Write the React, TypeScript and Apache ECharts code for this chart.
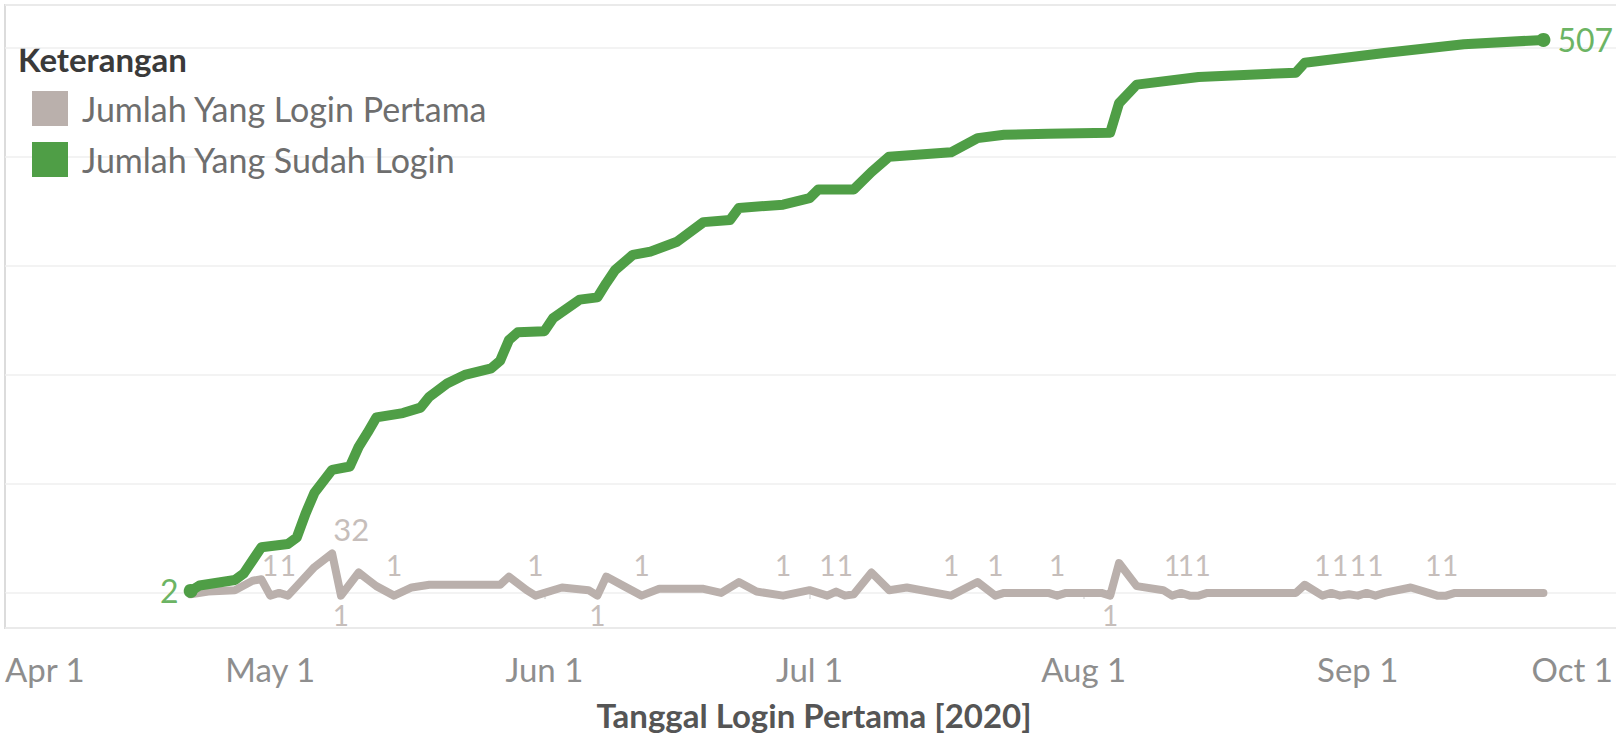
import React, { useEffect, useRef } from "react";
import * as echarts from "echarts";

// Cumulative logins (green)
const greenDates = [
  "2020-04-22", "2020-04-23", "2020-04-27", "2020-04-28", "2020-04-29", "2020-04-30",
  "2020-05-03", "2020-05-04", "2020-05-05", "2020-05-06", "2020-05-08", "2020-05-10",
  "2020-05-11", "2020-05-12", "2020-05-13", "2020-05-16", "2020-05-18", "2020-05-19",
  "2020-05-21", "2020-05-23", "2020-05-26", "2020-05-27", "2020-05-28", "2020-05-29",
  "2020-06-01", "2020-06-02", "2020-06-05", "2020-06-07", "2020-06-08", "2020-06-09",
  "2020-06-11", "2020-06-13", "2020-06-16", "2020-06-19", "2020-06-22", "2020-06-23",
  "2020-06-28", "2020-07-01", "2020-07-02", "2020-07-06", "2020-07-08", "2020-07-10",
  "2020-07-17", "2020-07-20", "2020-07-23", "2020-07-28", "2020-08-04", "2020-08-05",
  "2020-08-07", "2020-08-14", "2020-08-25", "2020-08-26", "2020-09-04", "2020-09-13",
  "2020-09-22",
];
const greenValues = [
  2, 7, 12, 18, 30, 42,
  45, 51, 73, 92, 113, 116,
  134, 147, 161, 165, 170, 180,
  192, 200, 206, 213, 232, 239,
  240, 252, 269, 271, 284, 296,
  310, 313, 322, 340, 342, 353,
  356, 362, 370, 370, 386, 400,
  404, 417, 420, 421, 422, 449,
  466, 473, 477, 486, 495, 503,
  507,
];

// Daily first logins (grey)
const greyDates = [
  "2020-04-22", "2020-04-24", "2020-04-27", "2020-04-29", "2020-04-30", "2020-05-01",
  "2020-05-02", "2020-05-03", "2020-05-04", "2020-05-06", "2020-05-08", "2020-05-09",
  "2020-05-11", "2020-05-12", "2020-05-13", "2020-05-15", "2020-05-17", "2020-05-19",
  "2020-05-27", "2020-05-28", "2020-05-30", "2020-05-31", "2020-06-03", "2020-06-06",
  "2020-06-07", "2020-06-08", "2020-06-10", "2020-06-12", "2020-06-14", "2020-06-19",
  "2020-06-21", "2020-06-23", "2020-06-25", "2020-06-28", "2020-07-01", "2020-07-03",
  "2020-07-04", "2020-07-05", "2020-07-06", "2020-07-08", "2020-07-10", "2020-07-12",
  "2020-07-17", "2020-07-20", "2020-07-22", "2020-07-23", "2020-07-28", "2020-07-29",
  "2020-07-30", "2020-08-03", "2020-08-04", "2020-08-05", "2020-08-07", "2020-08-10",
  "2020-08-11", "2020-08-12", "2020-08-13", "2020-08-14", "2020-08-15", "2020-08-25",
  "2020-08-26", "2020-08-28", "2020-08-29", "2020-08-30", "2020-08-31", "2020-09-01",
  "2020-09-02", "2020-09-03", "2020-09-04", "2020-09-07", "2020-09-09", "2020-09-10",
  "2020-09-11", "2020-09-12", "2020-09-22",
];
const greyValues = [
  2, 4, 5, 12, 13, 1,
  3, 1, 8, 22, 32, 1,
  18, 13, 8, 1, 7, 9,
  9, 15, 5, 1, 7, 5,
  1, 15, 8, 1, 6, 6,
  3, 11, 4, 1, 5, 1,
  4, 1, 2, 18, 5, 7,
  1, 11, 1, 3, 3, 1,
  3, 3, 1, 25, 8, 5,
  1, 3, 1, 1, 3, 3,
  9, 1, 3, 1, 2, 1,
  3, 1, 3, 7, 3, 1,
  1, 3, 3,
];
const greyLabelsAbove = [
  "2020-05-01", "2020-05-03", "2020-05-15", "2020-05-31", "2020-06-12", "2020-06-28",
  "2020-07-03", "2020-07-05", "2020-07-17", "2020-07-22", "2020-07-29", "2020-08-11",
  "2020-08-13", "2020-08-14", "2020-08-28", "2020-08-30", "2020-09-01", "2020-09-03",
  "2020-09-10", "2020-09-11",
];
const greyLabelsBelow = ["2020-05-09", "2020-06-07", "2020-08-04"];
const greyPeakDate = "2020-05-08";

const seriesNames = ["Jumlah Yang Login Pertama", "Jumlah Yang Sudah Login"];
const monthNames = ["Jan", "Feb", "Mar", "Apr", "May", "Jun", "Jul", "Aug", "Sep", "Oct", "Nov", "Dec"];
const xMin = "2020-04-01";
const xMax = "2020-10-01";

const FONT = 'Lato, "Open Sans", sans-serif';
const GREEN = "#4f9e46";
const GREY = "#bab0ac";
const DAY = 24 * 3600 * 1000;

export default function App() {
  const ref = useRef<HTMLDivElement>(null);

  useEffect(() => {
    if (!ref.current) return;
    const chart = echarts.init(ref.current, null, { renderer: "svg" });

    const greenData = greenDates.map((d, i) => {
      const item: any = { value: [d, greenValues[i]] };
      const last = i === greenDates.length - 1;
      if (i === 0 || last) {
        item.symbol = "circle";
        item.symbolSize = 14;
        item.label = {
          show: true,
          position: last ? "right" : "left",
          distance: last ? 7 : 5,
          color: "#6cb464",
          fontSize: 32,
          fontFamily: FONT,
          formatter: (p: any) => String(p.value[1]),
        };
      }
      return item;
    });

    const aboveTimes = greyLabelsAbove.map((d) => new Date(d).getTime());
    const greyData = greyDates.map((d, i) => {
      const item: any = { value: [d, greyValues[i]] };
      const lbl = {
        show: true,
        color: "#c6bebb",
        fontSize: 28,
        fontFamily: FONT,
        formatter: (p: any) => String(p.value[1]),
      };
      let label: any = null;
      if (d === greyPeakDate) {
        label = { ...lbl, fontSize: 31, position: "top", distance: 8, offset: [19, 0] };
      } else if (greyLabelsAbove.includes(d)) {
        const t = new Date(d).getTime();
        let dx = 0;
        if (aboveTimes.includes(t - DAY)) dx += 4;
        if (aboveTimes.includes(t + DAY)) dx -= 4;
        label = { ...lbl, position: "top", distance: 16, offset: [dx, 0] };
      } else if (greyLabelsBelow.includes(d)) {
        label = { ...lbl, position: "bottom", distance: 4 };
      }
      if (label) {
        item.symbol = "circle";
        item.symbolSize = 2;
        item.label = label;
      }
      return item;
    });

    const maxTime = new Date(xMax).getTime();

    chart.setOption({
      animation: false,
      backgroundColor: "#ffffff",
      grid: {
        left: 5,
        top: 5,
        width: 1618,
        bottom: 112,
        show: true,
        borderColor: "#dcdcdc",
        borderWidth: 2,
        containLabel: false,
        outerBoundsMode: "none",
      },
      legend: {
        data: seriesNames,
        orient: "vertical",
        left: 27,
        top: 86,
        icon: "rect",
        itemWidth: 36,
        itemHeight: 35,
        itemGap: 16,
        selectedMode: false,
        textStyle: {
          fontSize: 34,
          color: "#6e6e6e",
          fontFamily: FONT,
          padding: [0, 0, 0, 9],
        },
      },
      graphic: [
        {
          type: "text",
          left: 18,
          top: 42,
          style: {
            text: "Keterangan",
            fontSize: 33,
            fontWeight: "bold",
            fill: "#3a3a3a",
            fontFamily: FONT,
          },
        },
      ],
      xAxis: {
        type: "time",
        min: xMin,
        max: xMax,
        minInterval: 28 * DAY,
        name: "Tanggal Login Pertama [2020]",
        nameLocation: "middle",
        nameGap: 70,
        nameTextStyle: {
          fontSize: 33,
          fontWeight: "bold",
          color: "#555555",
          fontFamily: FONT,
        },
        axisLine: { show: false },
        axisTick: { show: true, length: 6, lineStyle: { color: "#dddddd", width: 1.5 } },
        splitLine: { show: false },
        axisLabel: {
          fontSize: 33,
          color: "#8e8e8e",
          fontFamily: FONT,
          margin: 24,
          alignMinLabel: "left",
          alignMaxLabel: "right",
          showMinLabel: true,
          showMaxLabel: true,
          hideOverlap: false,
          rich: {
            end: {
              fontSize: 33,
              color: "#8e8e8e",
              fontFamily: FONT,
              padding: [0, 10, 0, 0],
            },
          },
          formatter: (val: number) => {
            const d = new Date(val);
            const txt = monthNames[d.getMonth()] + " " + d.getDate();
            return val >= maxTime ? "{end|" + txt + "}" : txt;
          },
        },
      },
      yAxis: [
        {
          type: "value",
          min: -32,
          max: 539,
          axisLine: { show: false },
          axisTick: { show: false },
          axisLabel: { show: false },
          splitLine: { show: true, lineStyle: { color: "#efefef", width: 1.5 } },
        },
        {
          type: "value",
          min: -22.8,
          max: 435.3,
          axisLine: { show: false },
          axisTick: { show: false },
          axisLabel: { show: false },
          splitLine: { show: false },
        },
      ],
      series: [
        {
          name: seriesNames[0],
          type: "line",
          yAxisIndex: 1,
          data: greyData,
          color: GREY,
          symbol: "none",
          itemStyle: { color: GREY },
          lineStyle: { color: GREY, width: 8, cap: "round", join: "round" },
          z: 2,
        },
        {
          name: seriesNames[1],
          type: "line",
          yAxisIndex: 0,
          data: greenData,
          color: GREEN,
          symbol: "none",
          lineStyle: { color: GREEN, width: 10, cap: "round", join: "round" },
          itemStyle: { color: GREEN },
          z: 3,
        },
      ],
    });

    return () => chart.dispose();
  }, []);

  return (
    <div
      ref={ref}
      style={{ position: "fixed", left: 0, top: 0, width: 1616, height: 740, background: "#fff" }}
    />
  );
}
